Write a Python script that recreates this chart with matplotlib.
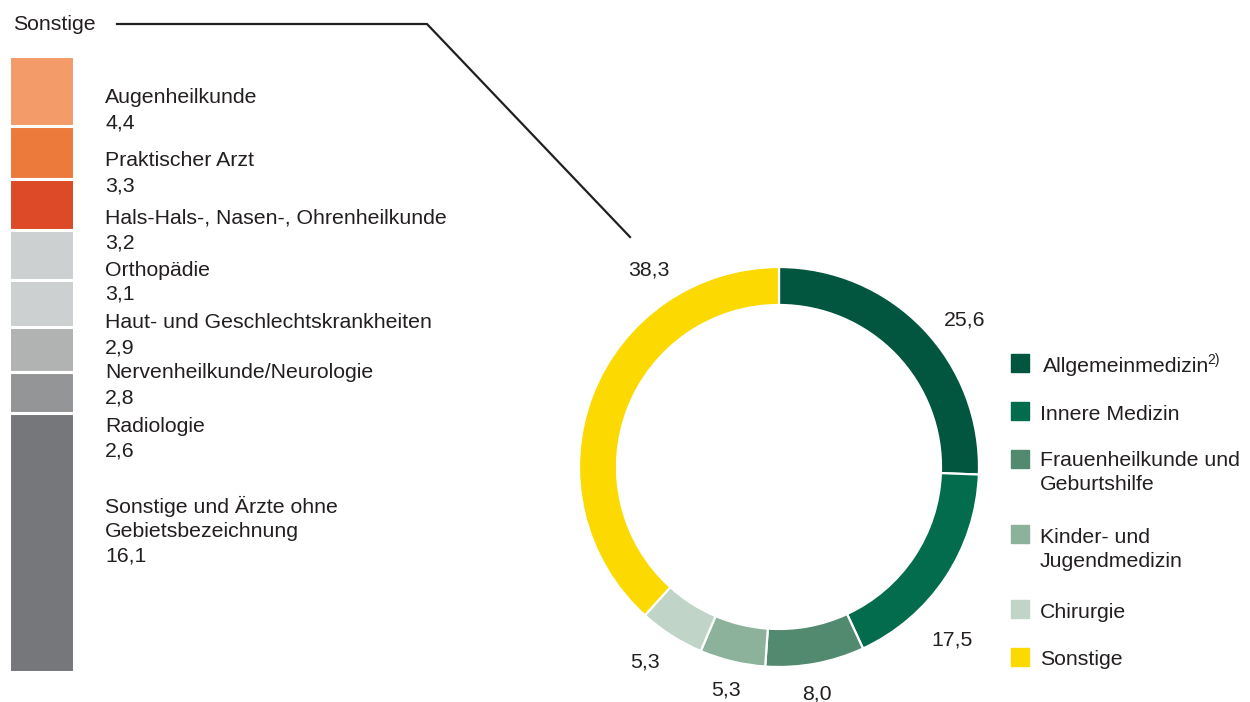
import matplotlib
matplotlib.use("Agg")
import matplotlib.pyplot as plt
from matplotlib.lines import Line2D
import numpy as np

plt.rcParams['font.family'] = ['Liberation Sans', 'DejaVu Sans']

# ---- data ----
donut_labels = ["Allgemeinmedizin", "Innere Medizin", "Frauenheilkunde und\nGeburtshilfe",
                "Kinder- und\nJugendmedizin", "Chirurgie", "Sonstige"]
donut_values = [25.6, 17.5, 8.0, 5.3, 5.3, 38.3]
donut_value_text = ["25,6", "17,5", "8,0", "5,3", "5,3", "38,3"]
donut_colors = ["#02553f", "#026c4c", "#528a70", "#8cb29b", "#c0d4c8", "#fcd900"]

bar_labels = ["Augenheilkunde", "Praktischer Arzt", "Hals-Hals-, Nasen-, Ohrenheilkunde",
              "Orthopädie", "Haut- und Geschlechtskrankheiten", "Nervenheilkunde/Neurologie",
              "Radiologie", "Sonstige und Ärzte ohne\nGebietsbezeichnung"]
bar_values = [4.4, 3.3, 3.2, 3.1, 2.9, 2.8, 2.6, 16.1]
bar_value_text = ["4,4", "3,3", "3,2", "3,1", "2,9", "2,8", "2,6", "16,1"]
bar_colors = ["#f39c6a", "#eb7a3b", "#dc4a27", "#cdd0d1", "#cdd0d1", "#b1b2b2", "#939596", "#76777a"]

W, H = 1250, 702
TXT = "#231f20"
FS = 15.3

fig = plt.figure(figsize=(W / 100, H / 100), dpi=100)

def px(x, y):
    return x / W, 1 - y / H

def ftext(x, y, s, **kw):
    kw.setdefault("fontsize", FS)
    kw.setdefault("color", TXT)
    kw.setdefault("va", "baseline")
    return fig.text(*px(x, y), s, **kw)

# ---- donut ----
cx, cy, R = 779, 467, 200
axd = fig.add_axes([(cx - R) / W, (H - cy - R) / H, 2 * R / W, 2 * R / H])
axd.pie(donut_values, colors=donut_colors, startangle=90, counterclock=False,
        wedgeprops=dict(width=0.19, edgecolor="white", linewidth=1.6))
axd.set_xlim(-1, 1)
axd.set_ylim(-1, 1)
axd.set_aspect("equal")
axd.axis("off")

# donut value labels (text positions in pixels, baseline)
donut_label_pos = [(965, 325), (952, 645), (817, 700), (726, 695), (645, 667), (649, 276)]
for (x, y), s in zip(donut_label_pos, donut_value_text):
    ftext(x, y, s, ha="center")

# ---- legend ----
leg_sq_y = [363, 411, 459, 534, 609, 657]
leg_base = [371.7, 420, 466, 543.3, 618.3, 665]
for i, (lab, col) in enumerate(zip(donut_labels, donut_colors)):
    sy = leg_sq_y[i]
    fig.patches.append(plt.Rectangle(px(1011, sy + 9), 18 / W, 18 / H,
                                     transform=fig.transFigure, color=col, figure=fig))
    lines = lab.split("\n")
    xt = 1043 if i == 0 else 1040
    for k, ln in enumerate(lines):
        t = ftext(xt, leg_base[i] + k * 23.5, ln, ha="left")
    if i == 0:
        fig.canvas.draw()
        bb = t.get_window_extent()
        fig.text((bb.x1 - 1.5) / W, px(0, 364)[1], "2)", fontsize=10, color=TXT,
                 va="baseline", ha="left")

# ---- stacked bar (left) ----
top_px, bot_px = 55.5, 671.5
axb = fig.add_axes([9 / W, (H - bot_px) / H, 65 / W, (bot_px - top_px) / H])
bottoms = np.concatenate([[0], np.cumsum(bar_values)[:-1]])
axb.bar([0] * len(bar_values), bar_values, bottom=bottoms, width=1.0,
        color=bar_colors, edgecolor="white", linewidth=2.2)
axb.set_xlim(-0.5, 0.5)
axb.set_ylim(sum(bar_values), 0)
axb.axis("off")

bar_name_base = [103.3, 165.7, 223.3, 276, 328.3, 378.3, 431.7, 513.3]
bar_val_base = [128.3, 191, 248.3, 300, 353.3, 403.3, 456.7, 561.7]
for i, (lab, vt) in enumerate(zip(bar_labels, bar_value_text)):
    lines = lab.split("\n")
    for k, ln in enumerate(lines):
        ftext(105, bar_name_base[i] + k * 23.4, ln, ha="left")
    ftext(105, bar_val_base[i], vt, ha="left")

# ---- "Sonstige" header and connector ----
ftext(13, 30, "Sonstige", ha="left")
xs = [117, 427, 630]
ys = [24, 24, 237]
fig.lines.append(Line2D([x / W for x in xs], [1 - y / H for y in ys],
                        transform=fig.transFigure, color=TXT, linewidth=1.6))

fig.savefig("out.png", dpi=100, facecolor="white")
